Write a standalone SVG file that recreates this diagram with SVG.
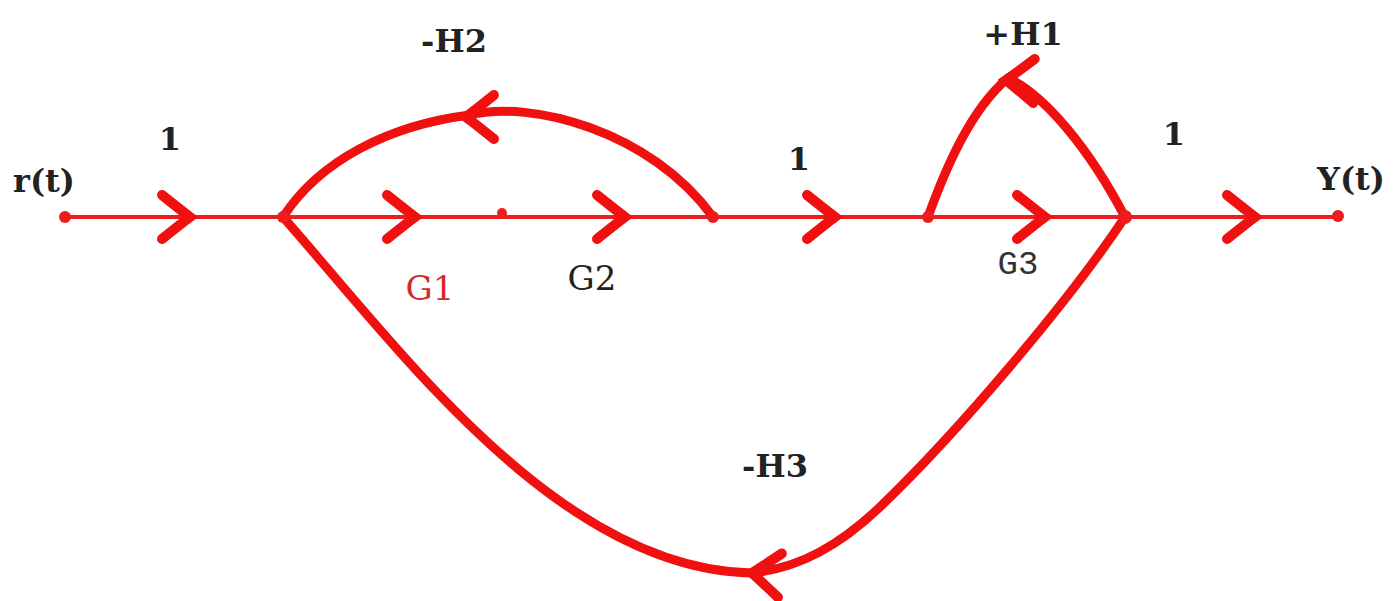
<svg xmlns="http://www.w3.org/2000/svg" xmlns:xlink="http://www.w3.org/1999/xlink" width="1398" height="601" viewBox="0 0 1398 601">
<style>
.line{fill:none;stroke:#ee1c1c;stroke-width:4}
.loop{fill:none;stroke:#f01010;stroke-width:9;stroke-linecap:round;stroke-linejoin:round}
.chev{fill:none;stroke:#f01010;stroke-width:10;stroke-linecap:round;stroke-linejoin:miter}
.lbl{font-family:"DejaVu Serif","Liberation Serif",serif;font-weight:bold;font-size:32px;fill:#222;text-anchor:middle}
.g{font-weight:normal;font-size:34px}
.red{fill:#d42a2a}
.dot{fill:#ee1c1c}
</style>
<defs>
<path id="chev" d="M-28,-22 Q-8,-6 0,0 Q-8,6 -28,22"/>
</defs>
<rect width="1398" height="601" fill="#fff"/>
<g id="connectors">
<line class="line" x1="65" y1="217" x2="1340" y2="217"/>
<path class="loop" d="M713,217 C650,130 530,100 470,115 C390,125 320,160 283,217"/>
<path class="loop" d="M928,217 C945,170 970,110 1008,78 C1045,95 1090,150 1125,217"/>
<path class="loop" d="M1125,217 C1070,300 960,430 880,507 C840,545 800,568 752,573 C560,570 400,350 283,217"/>
<g class="chev">
<use xlink:href="#chev" transform="translate(190,217)"/>
<use xlink:href="#chev" transform="translate(415,217)"/>
<use xlink:href="#chev" transform="translate(625,217)"/>
<use xlink:href="#chev" transform="translate(835,217)"/>
<use xlink:href="#chev" transform="translate(1045,217)"/>
<use xlink:href="#chev" transform="translate(1255,217)"/>
<use xlink:href="#chev" transform="translate(466,117) rotate(180)"/>
<use xlink:href="#chev" transform="translate(1006,80) rotate(182)"/>
<use xlink:href="#chev" transform="translate(752,573) rotate(185)"/>
</g>
</g>
<g id="n_r"><circle class="dot" cx="65" cy="217" r="6"/><text class="lbl" x="44" y="192">r(t)</text></g>
<g id="n_a"><circle class="dot" cx="283" cy="217" r="6"/></g>
<g id="n_b"><circle class="dot" cx="502" cy="213" r="5"/></g>
<g id="n_c"><circle class="dot" cx="713" cy="217" r="6"/></g>
<g id="n_d"><circle class="dot" cx="928" cy="217" r="6"/></g>
<g id="n_e"><circle class="dot" cx="1125" cy="217" r="7"/></g>
<g id="n_y"><circle class="dot" cx="1338" cy="216" r="6"/><text class="lbl" x="1351" y="190">Y(t)</text></g>
<g id="labels">
<text class="lbl" x="170" y="150">1</text>
<text class="lbl" x="454" y="52">-H2</text>
<text class="lbl g red" x="430" y="300">G1</text>
<text class="lbl g" x="592" y="290">G2</text>
<text class="lbl" x="799" y="170">1</text>
<text class="lbl" x="1023" y="45">+H1</text>
<text class="lbl" x="1174" y="145">1</text>
<text class="lbl" x="1018" y="274" style="font-family:'Liberation Mono',monospace;font-size:34px;font-weight:normal;fill:#333">G3</text>
<text class="lbl" x="775" y="477">-H3</text>
</g>
</svg>
